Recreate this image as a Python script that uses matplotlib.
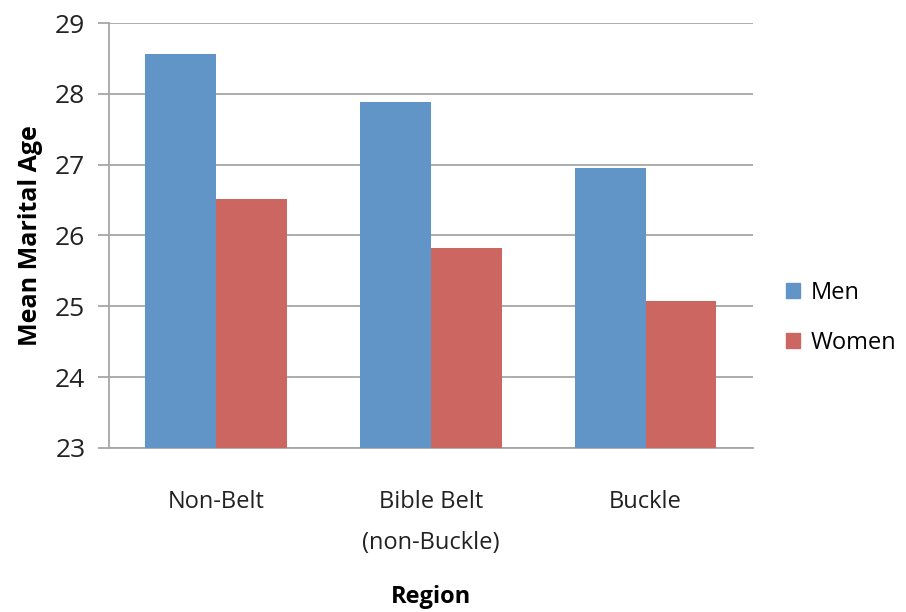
import numpy as np
from matplotlib import pyplot as plt
from matplotlib.patches import Patch

plt.rcParams['font.family'] = ['Open Sans', 'DejaVu Sans']

regions = ["Non-Belt", "Bible Belt\n(non-Buckle)", "Buckle"]
men = [28.56, 27.89, 26.95]
women = [26.51, 25.82, 25.08]

blue = "#6195c8"
red = "#cb6661"
grid_col = "#a6a6a6"

fig = plt.figure(figsize=(9.06, 6.12), dpi=100)
ax = fig.add_axes([0.1203, 0.268, 0.7108, 0.6944])

x = np.arange(len(regions))
w = 0.33
ax.bar(x - w/2, men, w, color=blue, zorder=3)
ax.bar(x + w/2, women, w, color=red, zorder=3)

ax.set_xlim(-0.5, 2.5)
ax.set_ylim(23, 29)
ax.set_yticks(range(23, 30))
ax.yaxis.grid(True, color=grid_col, linewidth=1.3, zorder=0)
ax.set_xticks(x)
ax.set_xticklabels(regions, fontsize=17, color="#222222", linespacing=1.95)
ax.tick_params(axis='x', length=0, pad=30)
ax.tick_params(axis='y', length=8, width=1.3, labelsize=19, pad=9,
               colors=grid_col, labelcolor="#222222")

for s in ["top", "right"]:
    ax.spines[s].set_visible(False)
ax.spines["left"].set_color(grid_col)
ax.spines["left"].set_linewidth(1.3)
ax.spines["bottom"].set_color(grid_col)
ax.spines["bottom"].set_linewidth(1.3)

ax.set_ylabel("Mean Marital Age", fontsize=18, fontweight="bold", labelpad=9)
ax.set_xlabel("Region", fontsize=17, fontweight="bold", labelpad=22)

handles = [Patch(color=blue, label="Men"), Patch(color=red, label="Women")]
fig.legend(handles=handles, loc="center left", bbox_to_anchor=(0.867, 0.481),
           frameon=False, fontsize=17, handlelength=0.6, handleheight=0.6,
           handletextpad=0.45, labelspacing=1.1, borderpad=0, borderaxespad=0)

fig.savefig("out.png", dpi=100)
